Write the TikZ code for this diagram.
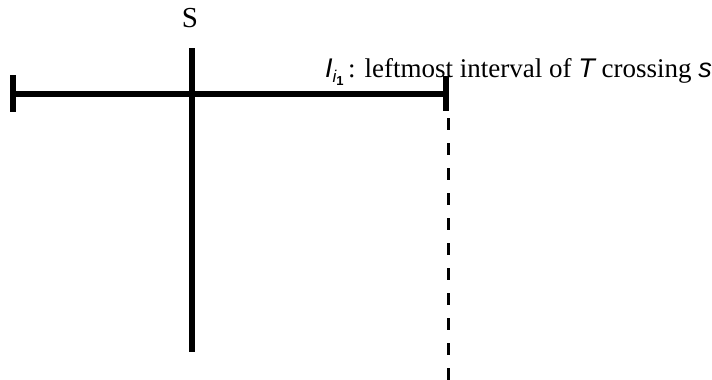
\documentclass[tikz,border=0pt]{standalone}
\usepackage{fontspec}
\setmainfont{Liberation Serif}
\newfontfamily\mathsans{Liberation Sans}
\begin{document}
\begin{tikzpicture}[x=1pt,y=-1pt,
  thickline/.style={line width=5.5pt},
  dashline/.style={line width=2.5pt, dash pattern=on 12pt off 13pt},
  lbl/.style={inner sep=0pt, font=\fontsize{27}{31}\selectfont}]
\useasboundingbox (0,0) rectangle (712,380);
% horizontal interval
\coordinate (Lt) at (13,75);
\coordinate (Lb) at (13,112);
\coordinate (L) at (13,94);
\coordinate (R) at (443,94);
\coordinate (Rt) at (446,76);
\coordinate (Rb) at (446,111);
\draw[thickline] (L) -- (R);
\draw[line width=6pt] (Lt) -- (Lb);
\draw[line width=6pt] (Rt) -- (Rb);
% vertical line s
\coordinate (St) at (192,48);
\coordinate (Sb) at (192,352);
\draw[thickline] (St) -- (Sb);
\node[lbl, font=\fontsize{29}{33}\selectfont] (S) at (190,18.5) {S};
% dashed line
\coordinate (Dt) at (448.5,118);
\coordinate (Db) at (448.5,380);
\draw[dashline] (Dt) -- (Db);
% label
\node[lbl, anchor=base west] (lab) at (325,77) {{\mathsans\itshape I}\raisebox{-5pt}{\fontsize{17}{17}\selectfont\mathsans\itshape i\raisebox{-3pt}{\fontsize{13}{13}\selectfont\upshape\bfseries 1}}\,: leftmost interval of {\mathsans\itshape T} crossing {\mathsans\itshape s}};
\end{tikzpicture}
\end{document}
